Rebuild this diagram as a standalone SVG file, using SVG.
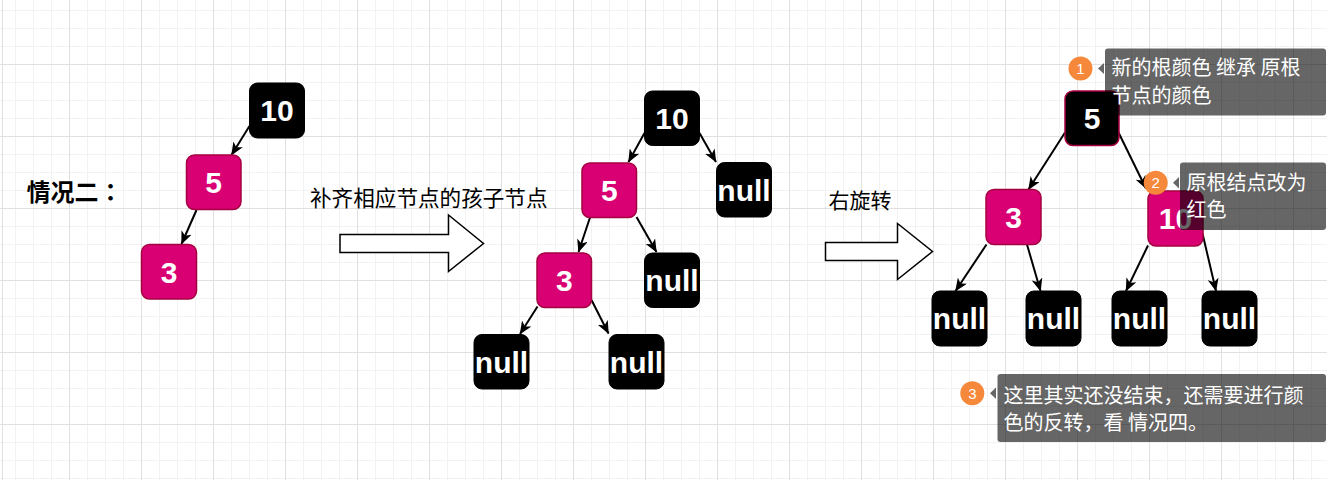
<svg xmlns="http://www.w3.org/2000/svg" width="1327" height="480" viewBox="0 0 1327 480">
<defs>
<pattern id="grid" x="-3" y="-8" width="72" height="72" patternUnits="userSpaceOnUse">
<rect x="18" y="0" width="1" height="72" fill="#f2f2f2"/>
<rect x="36" y="0" width="1" height="72" fill="#f2f2f2"/>
<rect x="54" y="0" width="1" height="72" fill="#f2f2f2"/>
<rect x="0" y="18" width="72" height="1" fill="#f2f2f2"/>
<rect x="0" y="36" width="72" height="1" fill="#f2f2f2"/>
<rect x="0" y="54" width="72" height="1" fill="#f2f2f2"/>
<rect x="0" y="0" width="1" height="72" fill="#e0e0e0"/>
<rect x="0" y="0" width="72" height="1" fill="#e0e0e0"/>
</pattern>
<marker id="ah" viewBox="0 0 13 11" markerWidth="13" markerHeight="11" refX="12.5" refY="5.5" orient="auto" markerUnits="userSpaceOnUse">
<path d="M0,0 L13,5.5 L0,11 L3.5,5.5 Z" fill="#000"/>
</marker>
<style>
.blk{fill:#000;stroke:#000;stroke-width:1}
.red{fill:#d80073;stroke:#a50040;stroke-width:1.5}
.root{fill:#000;stroke:#a50040;stroke-width:1.5}
.lbl{font-family:"Liberation Sans",Arial,sans-serif;font-weight:bold;font-size:30px;fill:#fff;text-anchor:middle}
.edge{stroke:#000;stroke-width:2;fill:none;marker-end:url(#ah)}
.cjk{font-family:"Noto Sans CJK SC","Noto Sans",sans-serif;fill:#000}
.tipbox{fill:#000;fill-opacity:0.6}
.tiptxt{font-family:"Noto Sans CJK SC","Noto Sans",sans-serif;font-size:20px;fill:#fff}
.badge{fill:#f5883a}
.badgetxt{font-family:"Liberation Sans",Arial,sans-serif;font-size:15px;fill:#fff;text-anchor:middle}
.barrow{fill:#fff;stroke:#000;stroke-width:1.5}
</style>
</defs>
<rect width="1327" height="480" fill="#fff"/>
<rect width="1327" height="480" fill="url(#grid)"/>
<rect x="2" y="0" width="1" height="480" fill="#e0e0e0"/>

<text id="title" x="26.5" y="200.5" font-size="24" font-weight="bold" font-family="'Noto Sans CJK TC','Noto Sans CJK SC',sans-serif" fill="#000">情况二：</text>
<text id="label-fill" class="cjk" x="310" y="205.5" font-size="21.6">补齐相应节点的孩子节点</text>
<text id="label-rotate" class="cjk" x="828.5" y="207.5" font-size="21">右旋转</text>

<g id="arrow-fill"><polygon class="barrow" points="340,234.5 448.5,234.5 448.5,215 483.5,243.5 448.5,271.5 448.5,252.5 340,252.5"/></g>
<g id="arrow-rotate"><polygon class="barrow" points="825.5,242.5 897.5,242.5 897.5,223.5 932.5,251.5 897.5,279.5 897.5,260.5 825.5,260.5"/></g>

<g id="connectors">
<line class="edge" x1="249.5" y1="126" x2="231.5" y2="155"/>
<line class="edge" x1="196.5" y1="210" x2="181.5" y2="244"/>
<line class="edge" x1="644.5" y1="133" x2="628.5" y2="162"/>
<line class="edge" x1="699.5" y1="133" x2="716" y2="162"/>
<line class="edge" x1="590" y1="217.5" x2="578.5" y2="252"/>
<line class="edge" x1="636.5" y1="217" x2="656.5" y2="252"/>
<line class="edge" x1="537.5" y1="306.5" x2="520" y2="334"/>
<line class="edge" x1="591.5" y1="300" x2="608.5" y2="333.5"/>
<line class="edge" x1="1065" y1="132.5" x2="1028.5" y2="189.5"/>
<line class="edge" x1="1118.5" y1="132.5" x2="1146" y2="188.5"/>
<line class="edge" x1="986.5" y1="244.5" x2="955.5" y2="291"/>
<line class="edge" x1="1027" y1="244.5" x2="1040.5" y2="291"/>
<line class="edge" x1="1148" y1="245.5" x2="1126" y2="291"/>
<line class="edge" x1="1202.5" y1="233.5" x2="1216" y2="291"/>
</g>

<g id="l10"><rect class="blk" x="249.5" y="83" width="55" height="55" rx="8"/><text class="lbl" x="277" y="121">10</text></g>
<g id="l5"><rect class="red" x="186.5" y="155" width="54.5" height="54.5" rx="8"/><text class="lbl" x="213.7" y="193">5</text></g>
<g id="l3"><rect class="red" x="141.5" y="244.5" width="55" height="54.5" rx="8"/><text class="lbl" x="169" y="282.5">3</text></g>

<g id="m10"><rect class="blk" x="644.5" y="91" width="55" height="54.5" rx="8"/><text class="lbl" x="672" y="129">10</text></g>
<g id="m5"><rect class="red" x="582" y="163" width="54.5" height="54.5" rx="8"/><text class="lbl" x="609.3" y="201">5</text></g>
<g id="mnull1"><rect class="blk" x="716.5" y="162.5" width="55" height="54.5" rx="8"/><text class="lbl" x="744" y="200.5">null</text></g>
<g id="m3"><rect class="red" x="537" y="253" width="54.5" height="54.5" rx="8"/><text class="lbl" x="564.3" y="291">3</text></g>
<g id="mnull2"><rect class="blk" x="644.5" y="253" width="55" height="54.5" rx="8"/><text class="lbl" x="672" y="291">null</text></g>
<g id="mnull3"><rect class="blk" x="474" y="334.5" width="55" height="54.5" rx="8"/><text class="lbl" x="501.5" y="372.5">null</text></g>
<g id="mnull4"><rect class="blk" x="609" y="334.5" width="55" height="54.5" rx="8"/><text class="lbl" x="636.5" y="372.5">null</text></g>

<g id="r5"><rect class="root" x="1065" y="91" width="54" height="54.5" rx="8"/><text class="lbl" x="1092" y="129">5</text></g>
<g id="r3"><rect class="red" x="986" y="189.5" width="55" height="55" rx="8"/><text class="lbl" x="1013.5" y="227.5">3</text></g>
<g id="r10"><rect class="red" x="1148" y="191" width="55" height="55" rx="8"/><text class="lbl" x="1175.5" y="229">10</text></g>
<g id="rnull1"><rect class="blk" x="932" y="291" width="55" height="55" rx="8"/><text class="lbl" x="959.5" y="329">null</text></g>
<g id="rnull2"><rect class="blk" x="1026" y="291" width="55" height="55" rx="8"/><text class="lbl" x="1053.5" y="329">null</text></g>
<g id="rnull3"><rect class="blk" x="1112" y="291" width="55" height="55" rx="8"/><text class="lbl" x="1139.5" y="329">null</text></g>
<g id="rnull4"><rect class="blk" x="1202" y="291" width="55" height="55" rx="8"/><text class="lbl" x="1229.5" y="329">null</text></g>

<g id="note1">
<circle class="badge" cx="1080.5" cy="68.5" r="12"/><text class="badgetxt" x="1080.5" y="74">1</text>
<path class="tipbox" d="M1098,68.5 L1104,63 L1104,74 Z"/>
<rect class="tipbox" x="1105" y="48.5" width="221" height="67" rx="3"/>
<text class="tiptxt" x="1111.5" y="74.5">新的根颜色 继承 原根</text>
<text class="tiptxt" x="1111.5" y="102.5">节点的颜色</text>
</g>
<g id="note2">
<circle class="badge" cx="1155.7" cy="182.7" r="12"/><text class="badgetxt" x="1155.7" y="188.2">2</text>
<path class="tipbox" d="M1173,182.7 L1179,177 L1179,188.5 Z"/>
<rect class="tipbox" x="1180" y="162.5" width="146" height="67.5" rx="3"/>
<text class="tiptxt" x="1186.5" y="189.5">原根结点改为</text>
<text class="tiptxt" x="1186.5" y="217">红色</text>
</g>
<g id="note3">
<circle class="badge" cx="972.3" cy="393.3" r="12"/><text class="badgetxt" x="972.3" y="398.8">3</text>
<path class="tipbox" d="M990,393.3 L996,387.5 L996,399 Z"/>
<rect class="tipbox" x="997.5" y="374" width="328.5" height="68" rx="3"/>
<text class="tiptxt" x="1003.5" y="402.5">这里其实还没结束，还需要进行颜</text>
<text class="tiptxt" x="1003.5" y="429.5">色的反转，看 情况四。</text>
</g>
</svg>
